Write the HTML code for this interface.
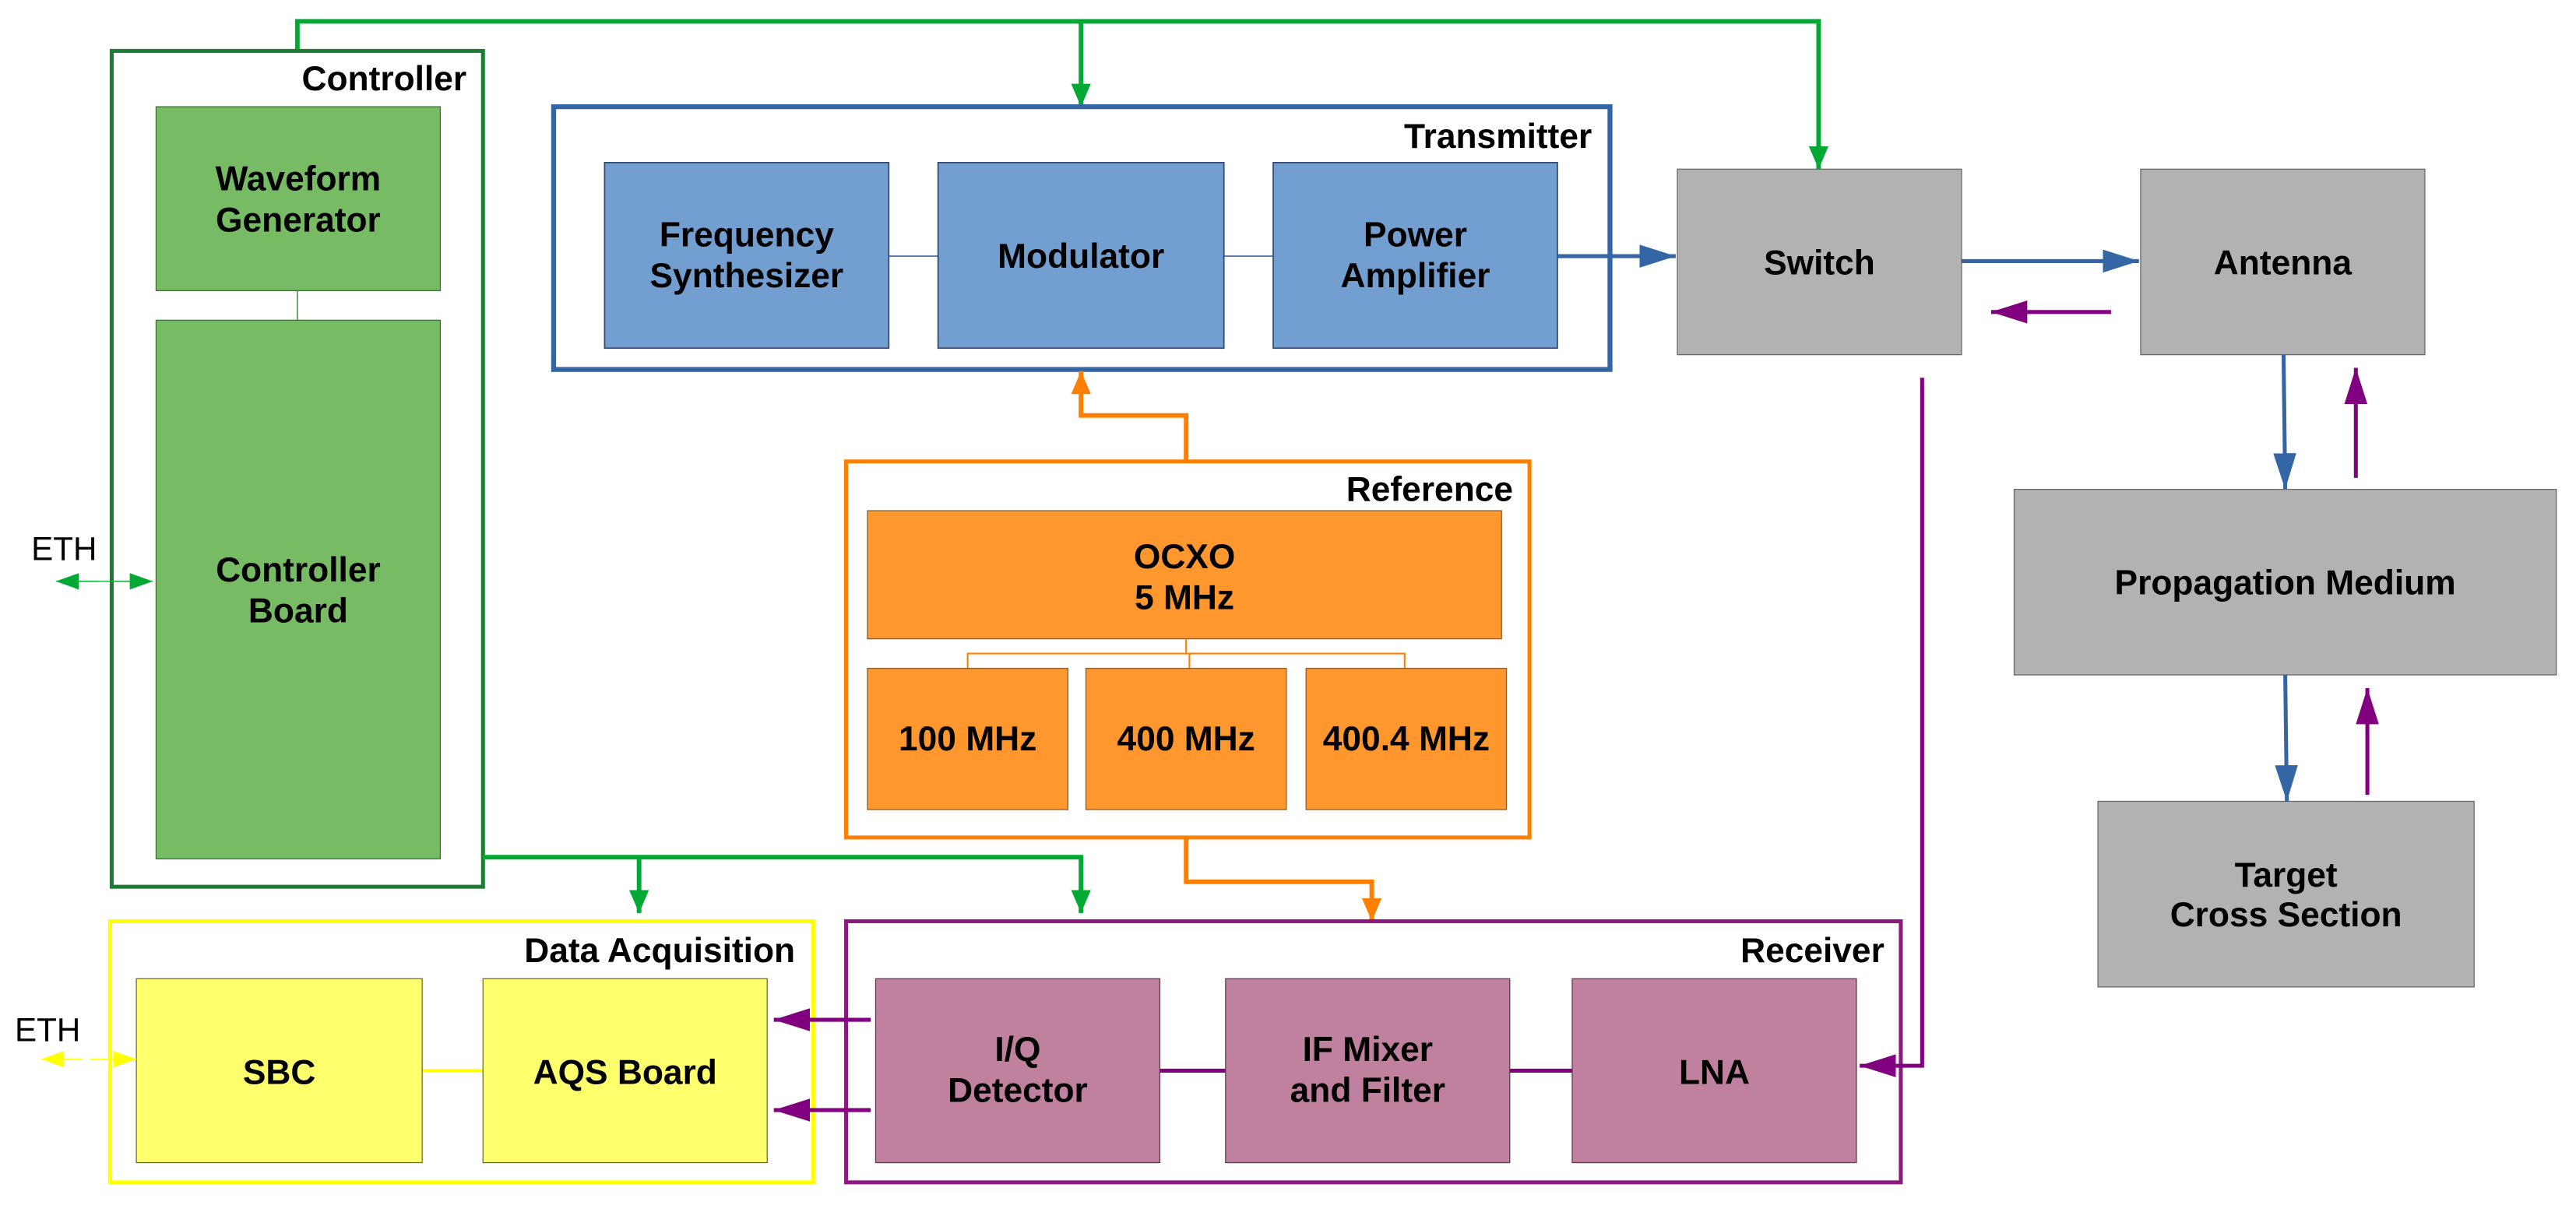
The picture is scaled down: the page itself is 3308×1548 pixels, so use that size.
<!DOCTYPE html>
<html><head><meta charset="utf-8"><style>
html,body{margin:0;padding:0;background:#fff;}
svg{display:block;}
text{font-family:"Liberation Sans",sans-serif;}
.b{font-weight:bold;font-size:21px;text-anchor:middle;fill:#000;}
.t{font-weight:bold;font-size:21px;text-anchor:end;fill:#000;}
</style></head><body>
<svg width="3308" height="1548" viewBox="0 0 1568 733.8" preserveAspectRatio="none" xmlns="http://www.w3.org/2000/svg">
<defs>
<marker id="ag" markerUnits="userSpaceOnUse" markerWidth="14" markerHeight="22" refX="14" refY="7" orient="auto" viewBox="0 0 14 14"><path d="M0,1 L14,7 L0,13 Z" fill="#00a933"/></marker>
<marker id="ab" markerUnits="userSpaceOnUse" markerWidth="22" markerHeight="14" refX="22" refY="7" orient="auto" viewBox="0 0 22 14"><path d="M0,0 L22,7 L0,14 Z" fill="#3465a4"/></marker>
<marker id="ap" markerUnits="userSpaceOnUse" markerWidth="22" markerHeight="14" refX="22" refY="7" orient="auto" viewBox="0 0 22 14"><path d="M0,0 L22,7 L0,14 Z" fill="#800080"/></marker>
<marker id="ao" markerUnits="userSpaceOnUse" markerWidth="14" markerHeight="14" refX="14" refY="6" orient="auto" viewBox="0 0 14 12"><path d="M0,0 L14,6 L0,12 Z" fill="#ff7f00"/></marker>
<marker id="agd" markerUnits="userSpaceOnUse" markerWidth="14" markerHeight="10" refX="14" refY="5" orient="auto" viewBox="0 0 14 10"><path d="M0,0 L14,5 L0,10 Z" fill="#00a933"/></marker>
<marker id="ay" markerUnits="userSpaceOnUse" markerWidth="14" markerHeight="10" refX="14" refY="5" orient="auto" viewBox="0 0 14 10"><path d="M0,0 L14,5 L0,10 Z" fill="#ffff00"/></marker>
</defs>

<polyline points="181,30 181,13 1107,13 1107,103" fill="none" stroke="#00a933" stroke-width="2.8" marker-end="url(#ag)"/>
<line x1="658" y1="13" x2="658" y2="65" stroke="#00a933" stroke-width="2.8" marker-end="url(#ag)"/>

<rect x="68" y="31" width="226" height="509" fill="#fff" stroke="#1e7b34" stroke-width="2.4"/>
<text class="t" x="284" y="55">Controller</text>
<rect x="95" y="65" width="173" height="112" fill="#77bc65" stroke="#3c6e30" stroke-width="0.6"/>
<text class="b" x="181.5" y="116">Waveform</text><text class="b" x="181.5" y="141">Generator</text>
<line x1="181" y1="177" x2="181" y2="195" stroke="#3c8a3c" stroke-width="0.7"/>
<rect x="95" y="195" width="173" height="328" fill="#77bc65" stroke="#3c6e30" stroke-width="0.6"/>
<text class="b" x="181.5" y="354">Controller</text><text class="b" x="181.5" y="379">Board</text>

<text x="39" y="341" font-size="20" text-anchor="middle">ETH</text>
<line x1="47" y1="354" x2="80" y2="354" stroke="#00a933" stroke-width="0.6"/>
<line x1="60" y1="354" x2="34" y2="354" stroke="#00a933" stroke-width="0.6" marker-end="url(#agd)"/>
<line x1="70" y1="354" x2="93" y2="354" stroke="#00a933" stroke-width="0.6" marker-end="url(#agd)"/>

<rect x="337" y="65" width="643" height="160" fill="#fff" stroke="#3465a4" stroke-width="3"/>
<text class="t" x="969" y="90">Transmitter</text>
<line x1="541" y1="156" x2="571" y2="156" stroke="#3465a4" stroke-width="0.8"/>
<line x1="745" y1="156" x2="775" y2="156" stroke="#3465a4" stroke-width="0.8"/>
<rect x="368" y="99" width="173" height="113" fill="#729fcf" stroke="#34476a" stroke-width="0.8"/>
<text class="b" x="454.5" y="150">Frequency</text><text class="b" x="454.5" y="175">Synthesizer</text>
<rect x="571" y="99" width="174" height="113" fill="#729fcf" stroke="#34476a" stroke-width="0.8"/>
<text class="b" x="658" y="163">Modulator</text>
<rect x="775" y="99" width="173" height="113" fill="#729fcf" stroke="#34476a" stroke-width="0.8"/>
<text class="b" x="861.5" y="150">Power</text><text class="b" x="861.5" y="175">Amplifier</text>
<line x1="948" y1="156" x2="1020" y2="156" stroke="#3465a4" stroke-width="2.4" marker-end="url(#ab)"/>

<rect x="1021" y="103" width="173" height="113" fill="#b2b2b2" stroke="#666" stroke-width="0.6"/>
<text class="b" x="1107.5" y="167">Switch</text>
<rect x="1303" y="103" width="173" height="113" fill="#b2b2b2" stroke="#666" stroke-width="0.6"/>
<text class="b" x="1389.5" y="167">Antenna</text>
<line x1="1194" y1="159" x2="1302" y2="159" stroke="#3465a4" stroke-width="2.4" marker-end="url(#ab)"/>
<line x1="1285" y1="190" x2="1212" y2="190" stroke="#800080" stroke-width="2.4" marker-end="url(#ap)"/>

<line x1="1390" y1="216" x2="1391" y2="298" stroke="#3465a4" stroke-width="2.4" marker-end="url(#ab)"/>
<line x1="1434" y1="291" x2="1434" y2="224" stroke="#800080" stroke-width="2.4" marker-end="url(#ap)"/>
<rect x="1226" y="298" width="330" height="113" fill="#b2b2b2" stroke="#666" stroke-width="0.6"/>
<text class="b" x="1391" y="362">Propagation Medium</text>
<line x1="1391" y1="411" x2="1392" y2="488" stroke="#3465a4" stroke-width="2.4" marker-end="url(#ab)"/>
<line x1="1441" y1="484" x2="1441" y2="419" stroke="#800080" stroke-width="2.4" marker-end="url(#ap)"/>
<rect x="1277" y="488" width="229" height="113" fill="#b2b2b2" stroke="#666" stroke-width="0.6"/>
<text class="b" x="1391.5" y="540">Target</text><text class="b" x="1391.5" y="564">Cross Section</text>

<polyline points="722,281 722,253 658,253 658,226" fill="none" stroke="#ff7f00" stroke-width="2.8" marker-end="url(#ao)"/>
<polyline points="722,510 722,537 835,537 835,561" fill="none" stroke="#ff7f00" stroke-width="2.8" marker-end="url(#ao)"/>
<rect x="515" y="281" width="416" height="229" fill="#fff" stroke="#ff7f00" stroke-width="2.4"/>
<text class="t" x="921" y="305">Reference</text>
<rect x="528" y="311" width="386" height="78" fill="#ff972f" stroke="#8a5a2a" stroke-width="0.6"/>
<text class="b" x="721" y="346">OCXO</text><text class="b" x="721" y="371">5 MHz</text>
<polyline points="722,389 722,398" fill="none" stroke="#ff7f00" stroke-width="1"/>
<polyline points="589,407 589,398 855,398 855,407" fill="none" stroke="#ff7f00" stroke-width="1"/>
<line x1="724" y1="398" x2="724" y2="407" stroke="#ff7f00" stroke-width="1"/>
<rect x="528" y="407" width="122" height="86" fill="#ff972f" stroke="#8a5a2a" stroke-width="0.6"/>
<text class="b" x="589" y="457">100 MHz</text>
<rect x="661" y="407" width="122" height="86" fill="#ff972f" stroke="#8a5a2a" stroke-width="0.6"/>
<text class="b" x="722" y="457">400 MHz</text>
<rect x="795" y="407" width="122" height="86" fill="#ff972f" stroke="#8a5a2a" stroke-width="0.6"/>
<text class="b" x="856" y="457">400.4 MHz</text>

<polyline points="294,522 658,522 658,556" fill="none" stroke="#00a933" stroke-width="2.8" marker-end="url(#ag)"/>
<line x1="389" y1="522" x2="389" y2="556" stroke="#00a933" stroke-width="2.8" marker-end="url(#ag)"/>

<rect x="67" y="561" width="428" height="159" fill="#fff" stroke="#ffff00" stroke-width="2.4"/>
<text class="t" x="484" y="586">Data Acquisition</text>
<line x1="257" y1="652" x2="294" y2="652" stroke="#ffff00" stroke-width="2"/>
<rect x="83" y="596" width="174" height="112" fill="#ffff6d" stroke="#6b6b30" stroke-width="0.6"/>
<text class="b" x="170" y="660">SBC</text>
<rect x="294" y="596" width="173" height="112" fill="#ffff6d" stroke="#6b6b30" stroke-width="0.6"/>
<text class="b" x="380.5" y="660">AQS Board</text>
<text x="29" y="634" font-size="20" text-anchor="middle">ETH</text>
<line x1="50" y1="645" x2="25" y2="645" stroke="#ffff00" stroke-width="0.6" marker-end="url(#ay)"/>
<line x1="55" y1="645" x2="83" y2="645" stroke="#ffff00" stroke-width="0.6" marker-end="url(#ay)"/>

<rect x="515" y="561" width="642" height="159" fill="#fff" stroke="#8b1a7f" stroke-width="2.4"/>
<text class="t" x="1147" y="586">Receiver</text>
<line x1="706" y1="652" x2="746" y2="652" stroke="#800080" stroke-width="2.4"/>
<line x1="919" y1="652" x2="957" y2="652" stroke="#800080" stroke-width="2.4"/>
<rect x="533" y="596" width="173" height="112" fill="#bf819e" stroke="#5a3a4a" stroke-width="0.6"/>
<text class="b" x="619.5" y="646">I/Q</text><text class="b" x="619.5" y="671">Detector</text>
<rect x="746" y="596" width="173" height="112" fill="#bf819e" stroke="#5a3a4a" stroke-width="0.6"/>
<text class="b" x="832.5" y="646">IF Mixer</text><text class="b" x="832.5" y="671">and Filter</text>
<rect x="957" y="596" width="173" height="112" fill="#bf819e" stroke="#5a3a4a" stroke-width="0.6"/>
<text class="b" x="1043.5" y="660">LNA</text>
<line x1="530" y1="621" x2="471" y2="621" stroke="#800080" stroke-width="2.4" marker-end="url(#ap)"/>
<line x1="530" y1="676" x2="471" y2="676" stroke="#800080" stroke-width="2.4" marker-end="url(#ap)"/>

<polyline points="1170,230 1170,649 1132,649" fill="none" stroke="#800080" stroke-width="2.4" marker-end="url(#ap)"/>
</svg>
</body></html>
